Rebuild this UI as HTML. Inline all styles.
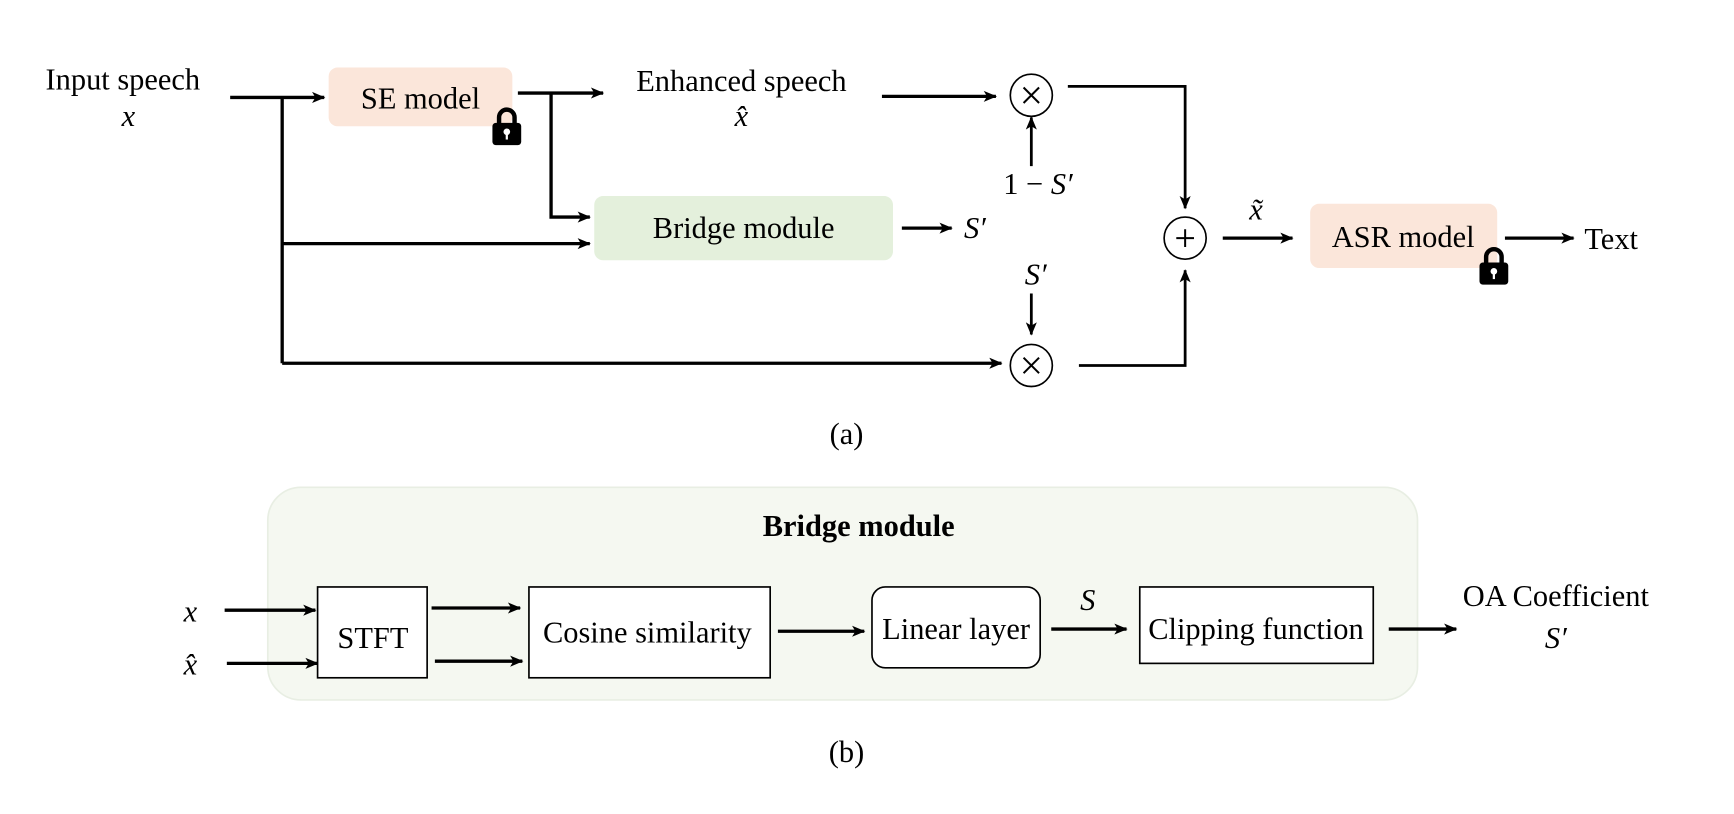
<!DOCTYPE html>
<html><head><meta charset="utf-8"><style>
html,body{margin:0;padding:0;background:#fff;width:1734px;height:814px;overflow:hidden}
svg{display:block}
text{font-family:"Liberation Serif",serif;font-size:27.5px;fill:#000}
.i{font-style:italic}
</style></head><body>
<svg width="1734" height="814" viewBox="0 0 1567 735" preserveAspectRatio="none">
<defs>
<marker id="a" markerWidth="12" markerHeight="12" refX="11" refY="6" orient="auto" markerUnits="userSpaceOnUse">
<path d="M0,1 L12,6 L0,11 L3,6 Z" fill="#000"/></marker>
<g id="lock"><path d="M7,16 V10 a7,7 0 0 1 14,0 V16" fill="none" stroke="#000" stroke-width="4"/>
<rect x="1" y="15" width="26" height="20" rx="3" fill="#000"/><circle cx="14" cy="23" r="3" fill="#fff"/><rect x="13" y="23" width="2" height="7" fill="#fff"/></g>
</defs>
<g stroke="#000" stroke-width="3" fill="none">
<path d="M208,88 H293" marker-end="url(#a)"/>
<path d="M255,88 V328"/>
<path d="M255,220 H533" marker-end="url(#a)"/>
<path d="M255,328 H905" marker-end="url(#a)"/>
<path d="M468,84 H545" marker-end="url(#a)"/>
<path d="M498,84 V196 H533" marker-end="url(#a)"/>
<path d="M797,87 H900" marker-end="url(#a)"/>
<path d="M932,150 V106" stroke-width="2.5" marker-end="url(#a)"/>
<path d="M815,206 H860" marker-end="url(#a)"/>
<path d="M965,78 H1071 V188" stroke-width="2.5" marker-end="url(#a)"/>
<path d="M932,265 V302" stroke-width="2.5" marker-end="url(#a)"/>
<path d="M975,330 H1071 V244" stroke-width="2.5" marker-end="url(#a)"/>
<path d="M1105,215 H1168" marker-end="url(#a)"/>
<path d="M1360,215 H1422" marker-end="url(#a)"/>
</g>
<rect x="297" y="61" width="166" height="53" rx="8" fill="#fbe6da"/>
<rect x="537" y="177" width="270" height="58" rx="8" fill="#e4f0dc"/>
<rect x="1184" y="184" width="169" height="58" rx="8" fill="#fbe6da"/>
<use href="#lock" x="444" y="96"/>
<use href="#lock" x="1336" y="222"/>
<g fill="#fff" stroke="#000" stroke-width="1.5">
<circle cx="932" cy="86" r="19"/><circle cx="1071" cy="215" r="19"/><circle cx="932" cy="330" r="19"/></g>
<g stroke="#000" stroke-width="1.8">
<path d="M925,79 L939,93 M939,79 L925,93"/><path d="M925,323 L939,337 M939,323 L925,337"/>
<path d="M1063,215 H1079 M1071,207 V223"/></g>
<g text-anchor="middle">
<text x="111" y="81">Input speech</text><text x="116" y="114" class="i">x</text>
<text x="380" y="98">SE model</text>
<text x="670" y="82">Enhanced speech</text><text x="670" y="114" class="i">x̂</text>
<text x="938" y="175">1 − <tspan class="i">S′</tspan></text>
<text x="672" y="215">Bridge module</text>
<text x="881" y="215" class="i">S′</text>
<text x="936" y="257" class="i">S′</text>
<text x="1135" y="198" class="i">x̃</text>
<text x="1268" y="223">ASR model</text>
<text x="1456" y="225">Text</text>
<text x="765" y="401">(a)</text>
</g>
<rect x="242" y="440" width="1039" height="192" rx="30" fill="#f5f8f1" stroke="#e8eee3" stroke-width="1.5"/>
<g stroke="#000" stroke-width="3" fill="none">
<path d="M203,551 H285" marker-end="url(#a)"/>
<path d="M205,599 H287" marker-end="url(#a)"/>
<path d="M390,549 H470" marker-end="url(#a)"/>
<path d="M393,597 H472" marker-end="url(#a)"/>
<path d="M703,570 H781" marker-end="url(#a)"/>
<path d="M950,568 H1018" marker-end="url(#a)"/>
<path d="M1255,568 H1316" marker-end="url(#a)"/>
</g>
<g fill="#fff" stroke="#000" stroke-width="1.5">
<rect x="287" y="530" width="99" height="82"/>
<rect x="478" y="530" width="218" height="82"/>
<rect x="788" y="530" width="152" height="73" rx="12"/>
<rect x="1030" y="530" width="211" height="69"/>
</g>
<g text-anchor="middle">
<text x="776" y="484" font-weight="bold">Bridge module</text>
<text x="172" y="561" class="i">x</text><text x="172" y="609" class="i">x̂</text>
<text x="337" y="585">STFT</text>
<text x="585" y="580">Cosine similarity</text>
<text x="864" y="577">Linear layer</text>
<text x="983" y="551" class="i">S</text>
<text x="1135" y="577">Clipping function</text>
<text x="1406" y="547">OA Coefficient</text>
<text x="1406" y="585" class="i">S′</text>
<text x="765" y="688">(b)</text>
</g>
</svg>
</body></html>
